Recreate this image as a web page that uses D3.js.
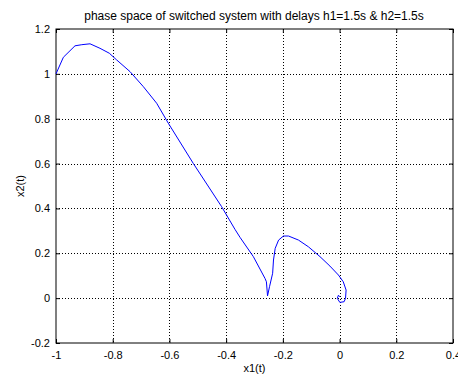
<!DOCTYPE html>
<html><head><meta charset="utf-8">
<script src="https://cdn.jsdelivr.net/npm/d3@7/dist/d3.min.js"></script>
<style>body{margin:0;background:#fff}svg{display:block}text{font-family:"Liberation Sans",Arial,sans-serif;fill:#000}</style>
</head><body>
<script>
const titleText = "phase space of switched system with delays h1=1.5s & h2=1.5s";
const xLabel = "x1(t)";
const yLabel = "x2(t)";
const xTicks = [-1, -0.8, -0.6, -0.4, -0.2, 0, 0.2, 0.4];
const yTicks = [-0.2, 0, 0.2, 0.4, 0.6, 0.8, 1, 1.2];
const x1 = [-1.000,-0.974,-0.933,-0.909,-0.880,-0.845,-0.812,-0.786,-0.739,-0.692,-0.645,-0.604,-0.516,-0.416,-0.369,-0.351,-0.304,-0.263,-0.258,-0.254,-0.247,-0.236,-0.233,-0.227,-0.215,-0.198,-0.180,-0.145,-0.110,-0.069,-0.034,-0.004,0.013,0.023,0.021,0.016,0.001,-0.008,-0.004,0.001];
const x2 = [1.000,1.074,1.125,1.130,1.134,1.114,1.092,1.062,1.010,0.943,0.869,0.780,0.601,0.408,0.307,0.271,0.185,0.088,0.073,0.010,0.051,0.111,0.170,0.222,0.259,0.277,0.277,0.259,0.229,0.185,0.143,0.103,0.073,0.036,-0.001,-0.016,-0.019,-0.001,0.013,0.006];

const W = 458, H = 384;
const L = 56, R = 453, T = 29, B = 343;
const svg = d3.select("body").append("svg").attr("width", W).attr("height", H);
const x = d3.scaleLinear().domain([-1, 0.4]).range([L, R]);
const y = d3.scaleLinear().domain([-0.2, 1.2]).range([B, T]);

// grid
const g = svg.append("g");
xTicks.slice(1, -1).forEach(v => g.append("line").attr("x1", Math.round(x(v))+0.5).attr("x2", Math.round(x(v))+0.5).attr("y1", T).attr("y2", B)
  .attr("stroke", "#000").attr("stroke-dasharray", "1,2").attr("stroke-width", 1));
yTicks.slice(1, -1).forEach(v => g.append("line").attr("y1", Math.round(y(v))+0.5).attr("y2", Math.round(y(v))+0.5).attr("x1", L).attr("x2", R)
  .attr("stroke", "#000").attr("stroke-dasharray", "1,2").attr("stroke-width", 1));

// axes
const fmt = d => d === 0 ? "0" : String(d);
const ax = svg.append("g").attr("transform", `translate(0,${B})`)
  .call(d3.axisBottom(x).tickValues(xTicks).tickFormat(fmt).tickSizeInner(-4).tickSizeOuter(0).tickPadding(8));
const axT = svg.append("g").attr("transform", `translate(0,${T})`)
  .call(d3.axisTop(x).tickValues(xTicks).tickFormat("").tickSizeInner(-4).tickSizeOuter(0));
const ay = svg.append("g").attr("transform", `translate(${L},0)`)
  .call(d3.axisLeft(y).tickValues(yTicks).tickFormat(fmt).tickSizeInner(-4).tickSizeOuter(0).tickPadding(6));
const ayR = svg.append("g").attr("transform", `translate(${R},0)`)
  .call(d3.axisRight(y).tickValues(yTicks).tickFormat("").tickSizeInner(-4).tickSizeOuter(0));
[ax, axT, ay, ayR].forEach(a => {
  a.selectAll("path").remove();
  a.selectAll("line").attr("stroke", "#000");
  a.selectAll("text").attr("font-size", 11).attr("fill", "#000");
});
svg.append("rect").attr("x", L).attr("y", T).attr("width", R - L).attr("height", B - T)
  .attr("fill", "none").attr("stroke", "#000").attr("stroke-width", 1);

// curve
const pts = x1.map((v, i) => [v, x2[i]]);
svg.append("path").datum(pts).attr("fill", "none").attr("stroke", "#0000ff").attr("stroke-width", 1)
  .attr("d", d3.line().x(d => x(d[0])).y(d => y(d[1])));

// labels
svg.append("text").attr("x", 254).attr("y", 20).attr("text-anchor", "middle").attr("font-size", 12).text(titleText);
svg.append("text").attr("x", (L + R) / 2).attr("y", 372).attr("text-anchor", "middle").attr("font-size", 11).text(xLabel);
svg.append("text").attr("transform", `translate(24,${(T + B) / 2}) rotate(-90)`).attr("text-anchor", "middle").attr("font-size", 11).text(yLabel);
</script>
</body></html>
